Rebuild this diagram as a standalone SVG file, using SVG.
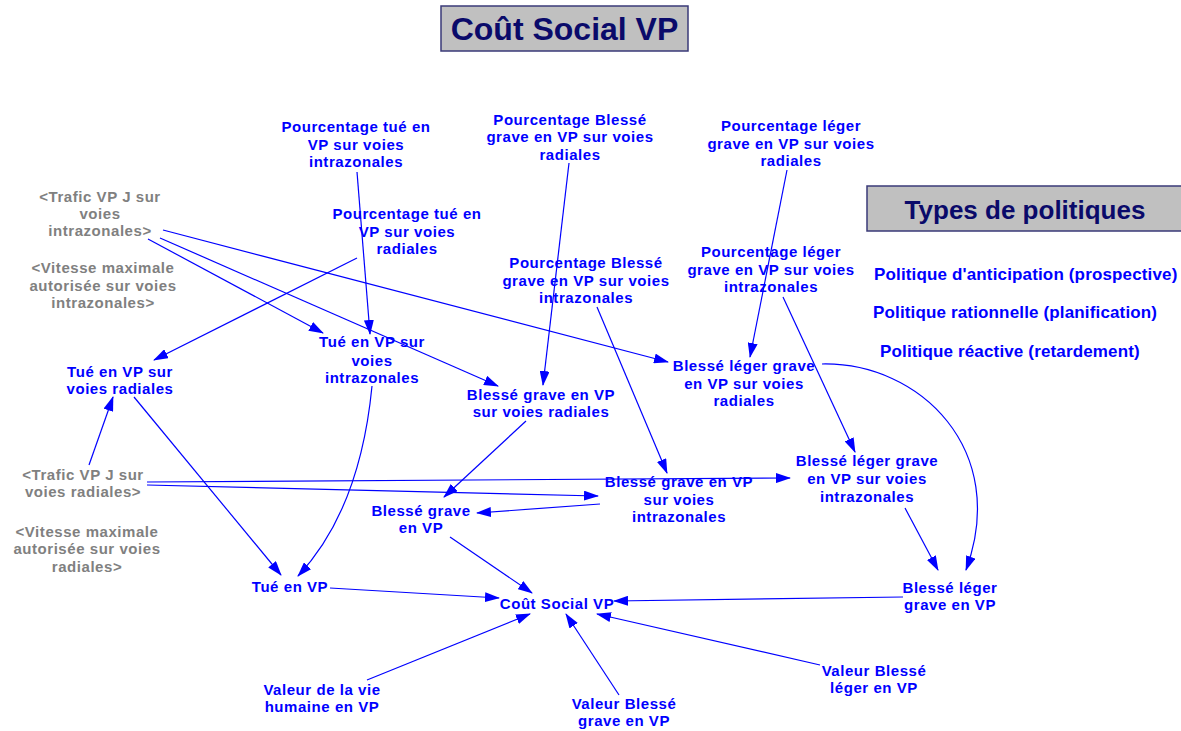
<svg xmlns="http://www.w3.org/2000/svg" width="1181" height="731" viewBox="0 0 1181 731">
  <defs>
    <marker id="arrow" markerUnits="userSpaceOnUse" markerWidth="15" markerHeight="10" refX="14" refY="5" orient="auto">
      <path d="M0,0 L15,5 L0,10 Z" fill="#0000ff"/>
    </marker>
    <style>
      .var { font-family: "Liberation Sans", Arial, sans-serif; font-weight: bold; font-size: 15px; letter-spacing: 0.55px; fill: #0000ff; text-anchor: middle; }
      .shadow { font-family: "Liberation Sans", Arial, sans-serif; font-weight: bold; font-size: 15px; letter-spacing: 0.55px; fill: #808080; text-anchor: middle; }
      .policy { font-family: "Liberation Sans", Arial, sans-serif; font-weight: bold; font-size: 17px; letter-spacing: 0.15px; fill: #0000ff; }
      .banner { fill: #c0c0c0; stroke: #3a3a78; stroke-width: 1.5; }
      .banner-text { font-family: "Liberation Sans", Arial, sans-serif; font-weight: bold; fill: #0a0a6a; text-anchor: middle; }
      .link { fill: none; stroke: #0000ff; stroke-width: 1.2; marker-end: url(#arrow); }
    </style>
  </defs>
  <rect width="1181" height="731" fill="#ffffff"/>

  <!-- Title banner -->
  <g id="title">
    <rect class="banner" x="441" y="6" width="247" height="45"/>
    <text class="banner-text" x="564.5" y="40" font-size="32">Coût Social VP</text>
  </g>

  <!-- Policy types panel -->
  <g id="types-politiques">
    <rect class="banner" x="867" y="186" width="320" height="45"/>
    <text class="banner-text" x="1025" y="219" font-size="26">Types de politiques</text>
  </g>
  <g id="politique-anticipation"><text class="policy" x="874" y="280">Politique d'anticipation (prospective)</text></g>
  <g id="politique-rationnelle"><text class="policy" x="873" y="318">Politique rationnelle (planification)</text></g>
  <g id="politique-reactive"><text class="policy" x="880" y="357">Politique réactive (retardement)</text></g>

  <!-- Connectors -->
  <g id="connectors">
    <line class="link" x1="148" y1="239" x2="323" y2="333"/>
    <line class="link" x1="160" y1="238" x2="498" y2="386"/>
    <line class="link" x1="163" y1="230" x2="668" y2="362"/>
    <line class="link" x1="357" y1="172" x2="370" y2="334"/>
    <line class="link" x1="357" y1="258" x2="154" y2="360"/>
    <line class="link" x1="569" y1="163" x2="543" y2="385"/>
    <line class="link" x1="787" y1="170" x2="750" y2="357"/>
    <line class="link" x1="597" y1="307" x2="667" y2="473"/>
    <line class="link" x1="783" y1="297" x2="855" y2="452"/>
    <path class="link" d="M822,364 C920,362 1010,450 966,570"/>
    <line class="link" x1="905" y1="508" x2="938" y2="570"/>
    <line class="link" x1="903" y1="597" x2="614" y2="601"/>
    <line class="link" x1="820" y1="665" x2="597" y2="614"/>
    <line class="link" x1="619" y1="695" x2="566" y2="614"/>
    <line class="link" x1="367" y1="680" x2="530" y2="614"/>
    <line class="link" x1="330" y1="588" x2="499" y2="598"/>
    <line class="link" x1="450" y1="537" x2="532" y2="593"/>
    <line class="link" x1="134" y1="397" x2="281" y2="575"/>
    <path class="link" d="M372,386 Q360,510 298,576"/>
    <line class="link" x1="89" y1="465" x2="113" y2="397"/>
    <line class="link" x1="147" y1="482" x2="790" y2="478"/>
    <line class="link" x1="147" y1="485" x2="598" y2="496"/>
    <line class="link" x1="600" y1="504" x2="477" y2="513"/>
    <line class="link" x1="526" y1="421" x2="444" y2="497"/>
  </g>

  <!-- Variables -->
  <g id="pourcentage-tue-intrazonales">
    <text class="var" x="356" y="132">Pourcentage tué en</text>
    <text class="var" x="356" y="150">VP sur voies</text>
    <text class="var" x="356" y="167">intrazonales</text>
  </g>
  <g id="pourcentage-tue-radiales">
    <text class="var" x="407" y="219">Pourcentage tué en</text>
    <text class="var" x="407" y="237">VP sur voies</text>
    <text class="var" x="407" y="254">radiales</text>
  </g>
  <g id="trafic-intrazonales">
    <text class="shadow" x="100" y="202">&lt;Trafic VP J sur</text>
    <text class="shadow" x="100" y="219">voies</text>
    <text class="shadow" x="100" y="236">intrazonales&gt;</text>
  </g>
  <g id="vitesse-intrazonales">
    <text class="shadow" x="103" y="273">&lt;Vitesse maximale</text>
    <text class="shadow" x="103" y="291">autorisée sur voies</text>
    <text class="shadow" x="103" y="308">intrazonales&gt;</text>
  </g>
  <g id="tue-radiales">
    <text class="var" x="120" y="377">Tué en VP sur</text>
    <text class="var" x="120" y="394">voies radiales</text>
  </g>
  <g id="tue-intrazonales">
    <text class="var" x="372" y="347">Tué en VP sur</text>
    <text class="var" x="372" y="366">voies</text>
    <text class="var" x="372" y="383">intrazonales</text>
  </g>
  <g id="pourcentage-blesse-grave-radiales">
    <text class="var" x="570" y="125">Pourcentage Blessé</text>
    <text class="var" x="570" y="142">grave en VP sur voies</text>
    <text class="var" x="570" y="160">radiales</text>
  </g>
  <g id="pourcentage-blesse-grave-intrazonales">
    <text class="var" x="586" y="268">Pourcentage Blessé</text>
    <text class="var" x="586" y="286">grave en VP sur voies</text>
    <text class="var" x="586" y="303">intrazonales</text>
  </g>
  <g id="blesse-grave-radiales">
    <text class="var" x="541" y="400">Blessé grave en VP</text>
    <text class="var" x="541" y="417">sur voies radiales</text>
  </g>
  <g id="pourcentage-leger-radiales">
    <text class="var" x="791" y="131">Pourcentage léger</text>
    <text class="var" x="791" y="149">grave en VP sur voies</text>
    <text class="var" x="791" y="166">radiales</text>
  </g>
  <g id="pourcentage-leger-intrazonales">
    <text class="var" x="771" y="257">Pourcentage léger</text>
    <text class="var" x="771" y="275">grave en VP sur voies</text>
    <text class="var" x="771" y="292">intrazonales</text>
  </g>
  <g id="blesse-leger-radiales">
    <text class="var" x="744" y="371">Blessé léger grave</text>
    <text class="var" x="744" y="389">en VP sur voies</text>
    <text class="var" x="744" y="406">radiales</text>
  </g>
  <g id="blesse-leger-intrazonales">
    <text class="var" x="867" y="466">Blessé léger grave</text>
    <text class="var" x="867" y="484">en VP sur voies</text>
    <text class="var" x="867" y="502">intrazonales</text>
  </g>
  <g id="blesse-grave-intrazonales">
    <text class="var" x="679" y="487">Blessé grave en VP</text>
    <text class="var" x="679" y="505">sur voies</text>
    <text class="var" x="679" y="522">intrazonales</text>
  </g>
  <g id="blesse-grave">
    <text class="var" x="421" y="516">Blessé grave</text>
    <text class="var" x="421" y="533">en VP</text>
  </g>
  <g id="trafic-radiales">
    <text class="shadow" x="83" y="480">&lt;Trafic VP J sur</text>
    <text class="shadow" x="83" y="497">voies radiales&gt;</text>
  </g>
  <g id="vitesse-radiales">
    <text class="shadow" x="87" y="537">&lt;Vitesse maximale</text>
    <text class="shadow" x="87" y="554">autorisée sur voies</text>
    <text class="shadow" x="87" y="572">radiales&gt;</text>
  </g>
  <g id="tue">
    <text class="var" x="290" y="592">Tué en VP</text>
  </g>
  <g id="cout-social">
    <text class="var" x="557" y="609">Coût Social VP</text>
  </g>
  <g id="blesse-leger">
    <text class="var" x="950" y="593">Blessé léger</text>
    <text class="var" x="950" y="610">grave en VP</text>
  </g>
  <g id="valeur-vie">
    <text class="var" x="322" y="695">Valeur de la vie</text>
    <text class="var" x="322" y="712">humaine en VP</text>
  </g>
  <g id="valeur-blesse-grave">
    <text class="var" x="624" y="709">Valeur Blessé</text>
    <text class="var" x="624" y="726">grave en VP</text>
  </g>
  <g id="valeur-blesse-leger">
    <text class="var" x="874" y="676">Valeur Blessé</text>
    <text class="var" x="874" y="693">léger en VP</text>
  </g>
</svg>
